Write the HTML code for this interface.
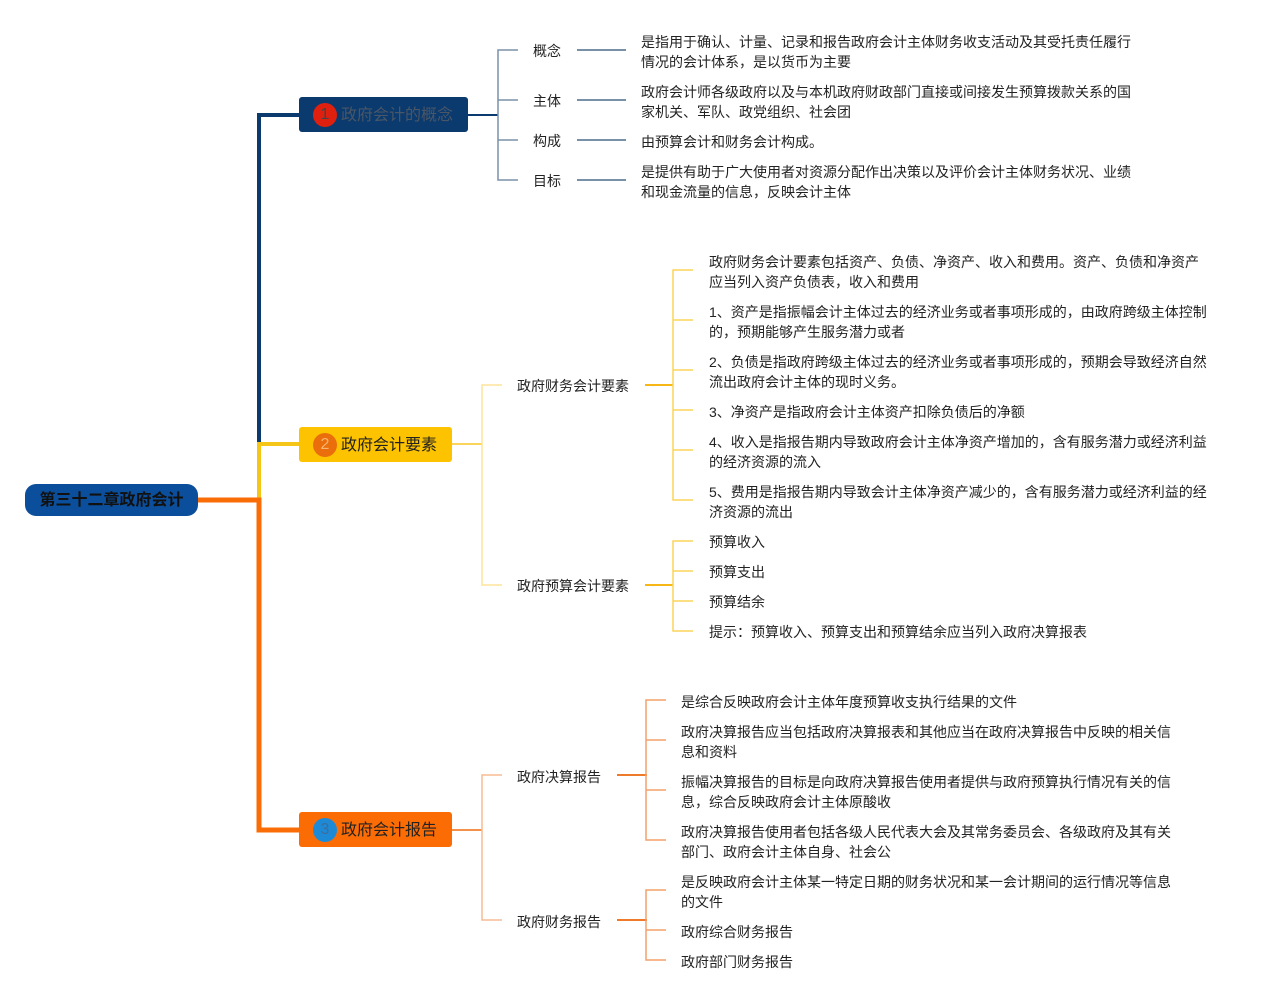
<!DOCTYPE html>
<html><head><meta charset="utf-8">
<style>
body{margin:0;width:1269px;height:1000px;background:#fff;position:relative;overflow:hidden;font-family:"Liberation Sans","Noto Sans CJK SC",sans-serif;}
.t{position:absolute;font-size:14px;line-height:20px;color:#222;white-space:nowrap;margin-top:1px;}
.n{position:absolute;height:35px;border-radius:3px;font-size:16px;line-height:38px;color:#222;}
.c{position:absolute;width:24px;height:24px;border-radius:50%;top:6px;left:14px;font-size:16px;line-height:24px;text-align:center;}
svg{position:absolute;left:0;top:0;}
</style></head><body>
<svg width="1269" height="1000">
<g fill="none">
<path d="M299 115 H259 V444" stroke="#0a3a6e" stroke-width="4"/>
<path d="M299 444 H259 V500" stroke="#f5c518" stroke-width="4"/>
<path d="M198 500 H259 V830 H299" stroke="#f96c06" stroke-width="5"/>
<path d="M468 115 H498" stroke="#0a3a6e" stroke-width="2"/>
<path d="M518 50 H498 V180 H518 M498 100 H518 M498 140 H518" stroke="#7890a8" stroke-width="1.5"/>
<path d="M577 50 H626 M577 100 H626 M577 140 H626 M577 180 H626" stroke="#7890a8" stroke-width="2"/>
<path d="M452 444 H482" stroke="#fbd45a" stroke-width="2"/>
<path d="M502 385 H482 V585 H502" stroke="#fde49a" stroke-width="1.5"/>
<path d="M645 385 H673 M645 585 H673" stroke="#f6b816" stroke-width="2"/>
<path d="M693 270 H673 V500 H693 M673 320 H693 M673 370 H693 M673 410 H693 M673 450 H693" stroke="#fbd45a" stroke-width="1.5"/>
<path d="M693 541 H673 V631 H693 M673 571 H693 M673 601 H693" stroke="#fbd45a" stroke-width="1.5"/>
<path d="M452 830 H482" stroke="#f3914a" stroke-width="2"/>
<path d="M502 775 H482 V920 H502" stroke="#f6bb91" stroke-width="1.5"/>
<path d="M617 775 H647 M617 920 H647" stroke="#ee7a2c" stroke-width="2"/>
<path d="M666 700 H646 V840 H666 M646 740 H666 M646 790 H666" stroke="#f3a06a" stroke-width="1.5"/>
<path d="M666 890 H646 V960 H666 M646 930 H666" stroke="#f3a06a" stroke-width="1.5"/>
</g>
</svg>

<div class="n" style="left:25px;top:484px;width:173px;height:32px;line-height:34px;border-radius:11px;background:#0b4f9c;font-weight:bold;font-size:16px;text-align:center;color:#111;">第三十二章政府会计</div>

<div class="n" style="left:299px;top:97px;width:169px;background:#0a3a6e;"><div class="c" style="background:#e0200f;color:#444">1</div><span style="position:absolute;left:42px;color:#4a5666">政府会计的概念</span></div>
<div class="n" style="left:299px;top:427px;width:153px;background:#fdc300;"><div class="c" style="background:#ea6e0c;color:#f6b56e">2</div><span style="position:absolute;left:42px">政府会计要素</span></div>
<div class="n" style="left:299px;top:812px;width:153px;background:#fb6c05;"><div class="c" style="background:#1e8ad6;color:#3a6ea0">3</div><span style="position:absolute;left:42px">政府会计报告</span></div>

<div class="t" style="left:533px;top:40px">概念</div>
<div class="t" style="left:533px;top:90px">主体</div>
<div class="t" style="left:533px;top:130px">构成</div>
<div class="t" style="left:533px;top:170px">目标</div>
<div class="t" style="left:641px;top:31px">是指用于确认、计量、记录和报告政府会计主体财务收支活动及其受托责任履行<br>情况的会计体系，是以货币为主要</div>
<div class="t" style="left:641px;top:81px">政府会计师各级政府以及与本机政府财政部门直接或间接发生预算拨款关系的国<br>家机关、军队、政党组织、社会团</div>
<div class="t" style="left:641px;top:131px">由预算会计和财务会计构成。</div>
<div class="t" style="left:641px;top:161px">是提供有助于广大使用者对资源分配作出决策以及评价会计主体财务状况、业绩<br>和现金流量的信息，反映会计主体</div>

<div class="t" style="left:517px;top:375px">政府财务会计要素</div>
<div class="t" style="left:517px;top:575px">政府预算会计要素</div>
<div class="t" style="left:709px;top:251px">政府财务会计要素包括资产、负债、净资产、收入和费用。资产、负债和净资产<br>应当列入资产负债表，收入和费用</div>
<div class="t" style="left:709px;top:301px">1、资产是指振幅会计主体过去的经济业务或者事项形成的，由政府跨级主体控制<br>的，预期能够产生服务潜力或者</div>
<div class="t" style="left:709px;top:351px">2、负债是指政府跨级主体过去的经济业务或者事项形成的，预期会导致经济自然<br>流出政府会计主体的现时义务。</div>
<div class="t" style="left:709px;top:401px">3、净资产是指政府会计主体资产扣除负债后的净额</div>
<div class="t" style="left:709px;top:431px">4、收入是指报告期内导致政府会计主体净资产增加的，含有服务潜力或经济利益<br>的经济资源的流入</div>
<div class="t" style="left:709px;top:481px">5、费用是指报告期内导致会计主体净资产减少的，含有服务潜力或经济利益的经<br>济资源的流出</div>
<div class="t" style="left:709px;top:531px">预算收入</div>
<div class="t" style="left:709px;top:561px">预算支出</div>
<div class="t" style="left:709px;top:591px">预算结余</div>
<div class="t" style="left:709px;top:621px">提示：预算收入、预算支出和预算结余应当列入政府决算报表</div>

<div class="t" style="left:517px;top:766px">政府决算报告</div>
<div class="t" style="left:517px;top:911px">政府财务报告</div>
<div class="t" style="left:681px;top:691px">是综合反映政府会计主体年度预算收支执行结果的文件</div>
<div class="t" style="left:681px;top:721px">政府决算报告应当包括政府决算报表和其他应当在政府决算报告中反映的相关信<br>息和资料</div>
<div class="t" style="left:681px;top:771px">振幅决算报告的目标是向政府决算报告使用者提供与政府预算执行情况有关的信<br>息，综合反映政府会计主体原酸收</div>
<div class="t" style="left:681px;top:821px">政府决算报告使用者包括各级人民代表大会及其常务委员会、各级政府及其有关<br>部门、政府会计主体自身、社会公</div>
<div class="t" style="left:681px;top:871px">是反映政府会计主体某一特定日期的财务状况和某一会计期间的运行情况等信息<br>的文件</div>
<div class="t" style="left:681px;top:921px">政府综合财务报告</div>
<div class="t" style="left:681px;top:951px">政府部门财务报告</div>
</body></html>
